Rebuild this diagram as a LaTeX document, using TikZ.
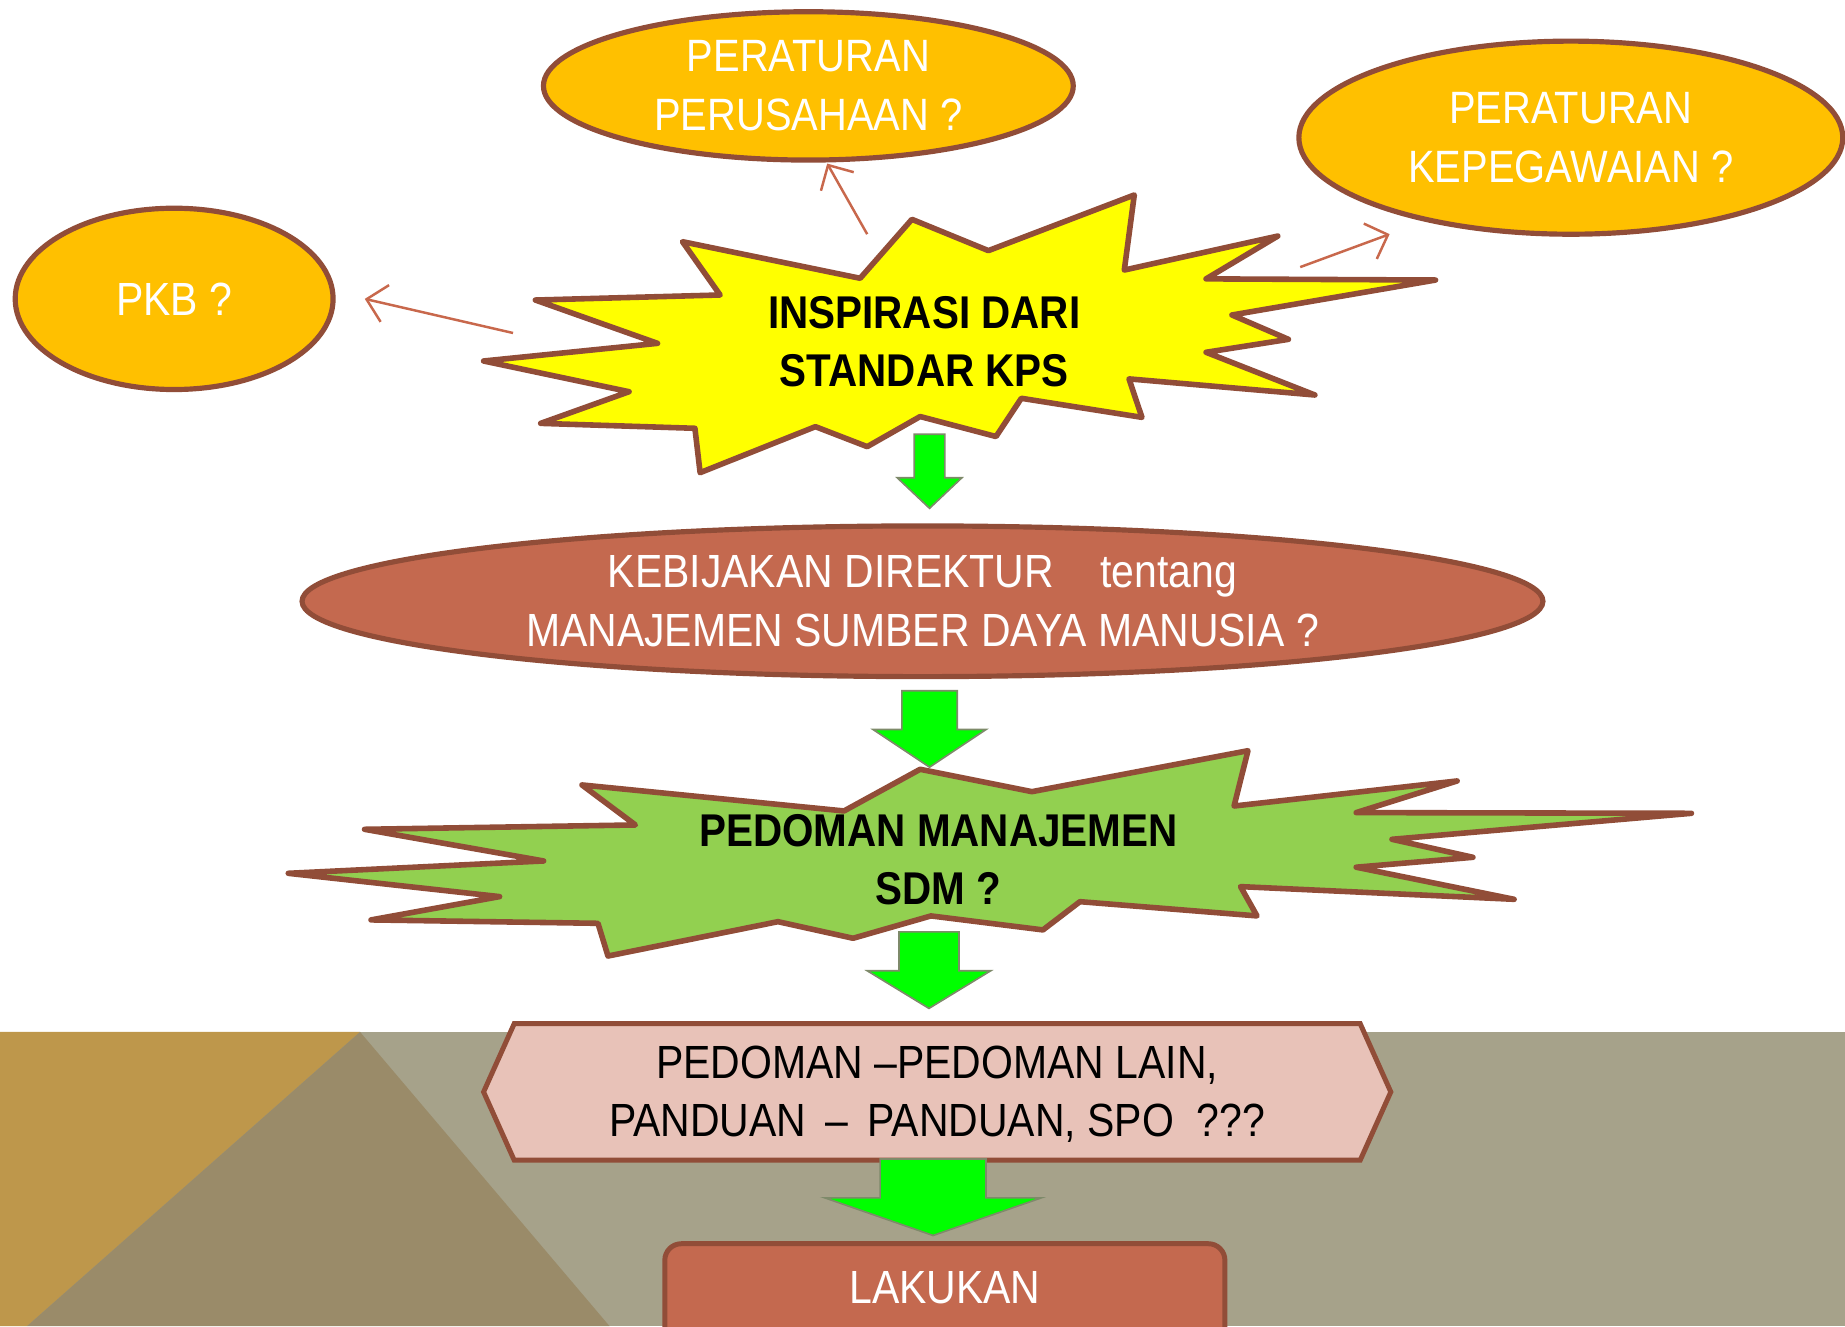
\documentclass[tikz,border=0pt]{standalone}
\usepackage{fontspec}
\setmainfont{Liberation Sans}[FakeStretch=0.88]
\usetikzlibrary{shapes.geometric,arrows.meta}
\definecolor{brd}{HTML}{914D38}
\definecolor{orng}{HTML}{FFC000}
\definecolor{brick}{HTML}{C4694F}
\definecolor{pinkf}{HTML}{E8C2B8}
\definecolor{starg}{HTML}{92D050}
\definecolor{brightg}{HTML}{00FF00}
\definecolor{arredge}{HTML}{7E8A6A}
\definecolor{connc}{HTML}{C8684C}
\definecolor{bgGold}{HTML}{BE974B}
\definecolor{bgDark}{HTML}{9A8B69}
\definecolor{bgGray}{HTML}{A6A28A}
\definecolor{ylw}{HTML}{FFFF00}
\begin{document}
\begin{tikzpicture}[x=0.01cm,y=-0.01cm,
  oval/.style={ellipse, draw=brd, line width=1.25pt, inner sep=0pt, align=center, text=white},
  lbl/.style={align=center, inner sep=0pt},
  fa/.style={font=\fontsize{10.95pt}{14.2pt}\selectfont},
  fb/.style={font=\fontsize{11.25pt}{14.2pt}\selectfont},
  fbold/.style={font=\fontsize{11.1pt}{14pt}\selectfont\bfseries},
  conn/.style={draw=connc, line width=0.6pt, -{Straight Barb[length=1.6mm,width=3.2mm]}},
  blk/.style={fill=brightg, draw=arredge, line width=0.4pt, line join=miter},
  starline/.style={draw=brd, line width=1.35pt, line join=round}
]
\useasboundingbox (0,0) rectangle (1568,1127);
% background band
\fill[bgGray] (0,877) rectangle (1568,1127);
\fill[bgGold] (0,877) -- (306,877) -- (23,1127) -- (0,1127) -- cycle;
\fill[bgDark] (306,877) -- (23,1127) -- (518,1127) -- cycle;

% top ellipses
\node[oval, fill=orng, fa, minimum width=4.5cm, minimum height=1.26cm] (perus) at (687,73) {PERATURAN\\PERUSAHAAN ?};
\node[oval, fill=orng, fa, minimum width=4.62cm, minimum height=1.64cm] (pegaw) at (1335,117) {PERATURAN\\KEPEGAWAIAN ?};
\node[oval, fill=orng, fb, minimum width=2.7cm, minimum height=1.54cm] (pkb) at (148,254) {PKB ?};

% yellow star
\path[fill=ylw, starline] (580,205.4) -- (731,236.5) -- (775,186.4) -- (840,213) -- (964,165.7) -- (955.5,229.5)
 -- (1086,200.6) -- (1025,237) -- (1220,238) -- (1047,267.7) -- (1095,288.4) -- (1025,299.4)
 -- (1117.5,335.7) -- (959.5,322) -- (970.5,354.7) -- (868,338.5) -- (846.5,371) -- (782,354)
 -- (737,379.6) -- (693,362.6) -- (595,401.7) -- (590.6,364) -- (459.5,359.8) -- (534.6,332.9)
 -- (411,306.8) -- (558.8,291.8) -- (455,255) -- (612,250.7) -- cycle;
\node[lbl, fbold] (kps) at (785.5,290) {INSPIRASI DARI\\STANDAR KPS};

% connectors from star
\coordinate (s1) at (737,199);
\coordinate (e1) at (703,139);
\coordinate (s2) at (436,283);
\coordinate (e2) at (310,254);
\coordinate (s3) at (1105,227);
\coordinate (e3) at (1181,199);
\draw[conn] (s1) -- (e1);
\draw[conn] (s2) -- (e2);
\draw[conn] (s3) -- (e3);

% policy ellipse
\node[oval, fill=brick, fb, minimum width=10.54cm, minimum height=1.28cm] (kebij) at (784,511) {KEBIJAKAN DIREKTUR\hspace{0.3cm} tentang\\MANAJEMEN SUMBER DAYA MANUSIA ?};

% green star
\path[fill=starg, starline] (782,653.8) -- (877,672.8) -- (1060.6,638) -- (1048.8,685) -- (1238.4,663.7)
 -- (1152.6,690.6) -- (1437.5,691.2) -- (1183,713.3) -- (1251.8,728.6) -- (1152.6,737) -- (1286.8,764.3)
 -- (1054.3,753.5) -- (1068.3,778.4) -- (917.8,766.3) -- (886.4,790.3) -- (791.2,778.4) -- (725,797.4)
 -- (661.2,783.3) -- (516.7,812.5) -- (508.2,784.7) -- (315.3,781.8) -- (424.6,762) -- (245,742.2)
 -- (462,731.7) -- (309.8,704.8) -- (540,701.1) -- (494.6,667.1) -- (717.3,689.2) -- cycle;
\node[lbl, fbold] (pedsdm) at (797.5,731) {PEDOMAN MANAJEMEN\\SDM ?};

% hexagon
\path[fill=pinkf, draw=brd, line width=1.2pt, line join=miter] (437,870) -- (1156,870) -- (1182,928) -- (1156,986) -- (437,986) -- (411,928) -- cycle;
\node[lbl, fb] (hexa) at (796.5,930) {PEDOMAN --PEDOMAN LAIN,\\PANDUAN\ \,--\ \,PANDUAN, SPO\ \ ???};

% LAKUKAN box
\path[fill=brick, draw=brd, line width=1.2pt, rounded corners=0.14cm] (565,1057) rectangle (1041,1150);
\node[lbl, fb, text=white] (lak) at (803,1094) {LAKUKAN};

% green block arrows
\path[blk] (777,369) -- (803,369) -- (803,406) -- (817.5,406) -- (790,432) -- (762.5,406) -- (777,406) -- cycle;
\path[blk] (766.5,587) -- (813.5,587) -- (813.5,620) -- (838,620) -- (790,652) -- (742,620) -- (766.5,620) -- cycle;
\path[blk] (764,792) -- (815,792) -- (815,825) -- (842,825) -- (789.5,857) -- (737,825) -- (764,825) -- cycle;
\path[blk] (748,985) -- (838,985) -- (838,1018) -- (885,1018) -- (793,1050) -- (701,1018) -- (748,1018) -- cycle;
\end{tikzpicture}
\end{document}
